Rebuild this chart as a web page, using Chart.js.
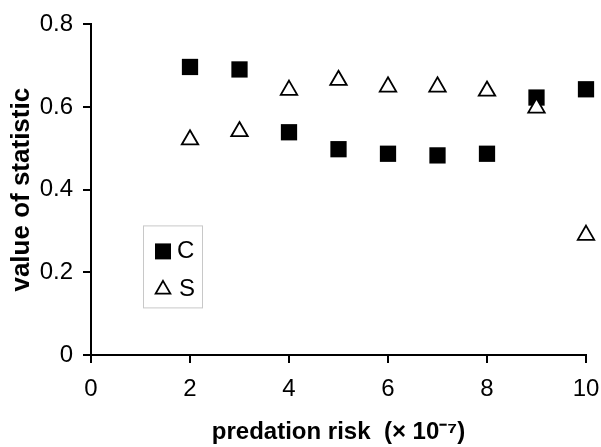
<!DOCTYPE html>
<html>
<head>
<meta charset="utf-8">
<script src="https://cdn.jsdelivr.net/npm/chart.js@4.4.0/dist/chart.umd.min.js"></script>
<style>
  body { margin: 0; background: #fff; }
  #wrap { width: 601px; height: 447px; position: relative; }
</style>
</head>
<body>
<div id="wrap"><canvas id="chart"></canvas></div>
<script>
const riskValues = [2, 3, 4, 5, 6, 7, 8, 9, 10];
const cValues = [0.697, 0.691, 0.539, 0.498, 0.487, 0.483, 0.487, 0.623, 0.643];
const sValues = [0.521, 0.541, 0.641, 0.665, 0.649, 0.649, 0.639, 0.598, 0.290];
const seriesNames = ["C", "S"];
const yTickLabels = ["0", "0.2", "0.4", "0.6", "0.8"];
const xTickLabels = ["0", "2", "4", "6", "8", "10"];

const toPoints = (vals) => riskValues.map((x, i) => ({ x: x, y: vals[i] }));

// little boxed legend sitting inside the plot
const boxLegend = {
  id: "boxLegend",
  afterDraw(chart) {
    const ctx = chart.ctx;
    const left = chart.chartArea.left + 52;
    const top = chart.chartArea.top + 201;
    ctx.save();
    ctx.strokeStyle = "#c8c8c8";
    ctx.lineWidth = 1;
    ctx.strokeRect(left + 0.5, top + 0.5, 59, 82);
    const rowY = [top + 26, top + 64];
    seriesNames.forEach((name, i) => {
      const ds = chart.data.datasets.find((d) => d.label === name);
      ctx.fillStyle = ds.backgroundColor;
      ctx.strokeStyle = ds.borderColor;
      ctx.lineWidth = ds.borderWidth;
      const r = ds.pointStyle === "rect" ? 11.3 : 8.5;
      Chart.helpers.drawPoint(ctx, { pointStyle: ds.pointStyle, radius: r, borderWidth: ds.borderWidth, rotation: 0 }, left + 20, rowY[i]);
      ctx.fillStyle = "#000";
      ctx.font = "24px 'Liberation Sans', Arial, sans-serif";
      ctx.textBaseline = "middle";
      ctx.textAlign = "left";
      ctx.fillText(name, left + 34 + i * 2, rowY[i]);
    });
    ctx.restore();
  }
};

const tickFont = { family: "'Liberation Sans', Arial, sans-serif", size: 24 };

new Chart(document.getElementById("chart"), {
  type: "scatter",
  plugins: [boxLegend],
  data: {
    datasets: [
      {
        label: "S",
        data: toPoints(sValues),
        pointStyle: "triangle",
        pointRadius: 9.5,
        pointHoverRadius: 9.5,
        backgroundColor: "#ffffff",
        borderColor: "#000000",
        borderWidth: 1.8,
        clip: false,
        order: 0
      },
      {
        label: "C",
        data: toPoints(cValues),
        pointStyle: "rect",
        pointRadius: 11.5,
        pointHoverRadius: 11.5,
        backgroundColor: "#000000",
        borderColor: "#000000",
        borderWidth: 0,
        clip: false,
        order: 1
      }
    ]
  },
  options: {
    responsive: true,
    maintainAspectRatio: false,
    animation: false,
    layout: { padding: { top: 21, right: 15, left: 0, bottom: 0 } },
    plugins: {
      legend: { display: false },
      tooltip: { enabled: false }
    },
    scales: {
      x: {
        type: "linear",
        min: 0,
        max: 10,
        ticks: {
          stepSize: 2,
          color: "#000",
          font: tickFont,
          padding: 12,
          maxRotation: 0,
          callback: (v, i) => xTickLabels[i]
        },
        grid: { drawOnChartArea: false, drawTicks: true, tickLength: 8, color: "#000", lineWidth: 2 },
        border: { display: true, color: "#000", width: 2 },
        title: {
          display: true,
          text: "predation risk  (× 10⁻⁷)",
          color: "#000",
          font: { family: "'Liberation Sans', Arial, sans-serif", size: 24, weight: "bold" },
          padding: { top: 0, bottom: 0 }
        },
        afterFit: (s) => { s.height = 92; s.paddingRight = 14; s.paddingLeft = 0; }
      },
      y: {
        min: 0,
        max: 0.8,
        ticks: {
          stepSize: 0.2,
          color: "#000",
          font: tickFont,
          padding: 10,
          callback: (v, i) => yTickLabels[i]
        },
        grid: { drawOnChartArea: false, drawTicks: true, tickLength: 8, color: "#000", lineWidth: 2 },
        border: { display: true, color: "#000", width: 2 },
        title: {
          display: true,
          text: "value of statistic",
          color: "#000",
          font: { family: "'Liberation Sans', Arial, sans-serif", size: 26, weight: "bold" },
          padding: { top: 6, bottom: 0 }
        },
        afterFit: (s) => { s.width = 91; }
      }
    }
  }
});
</script>
</body>
</html>
